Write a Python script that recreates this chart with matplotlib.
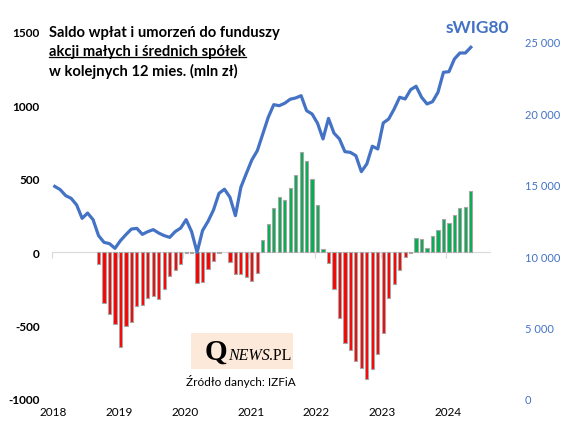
import numpy as np
import matplotlib
matplotlib.use('Agg')
import matplotlib.pyplot as plt
from matplotlib.patches import Rectangle
from matplotlib.lines import Line2D

plt.rcParams['font.family'] = ['Lato', 'DejaVu Sans']

# monthly data, Jan 2018 .. May 2024
years = ['2018', '2019', '2020', '2021', '2022', '2023', '2024']

# 12-month rolling net flows into small/mid cap equity funds (mln zl)
flows = [0, 0, 0, 0, 0, 0, 0, 0,
         -77, -349, -418, -486, -644, -503, -476, -367, -358, -313, -295, -322,
         -254, -163, -124, -77, -3, -8, -213, -201, -113, -58, -5, 0,
         -68, -150, -150, -170, -195, -143,
         82, 190, 299, 374, 354, 435, 524, 680, 619, 497, 320, 20,
         -73, -249, -447, -617, -669, -739, -787, -866, -798, -692, -549, -311,
         -220, -118, -36, -8,
         100, 93, 32, 113, 154, 229, 202, 256, 304, 308, 420]

# sWIG80 index level
swig = [14890, 14660, 14240, 14050, 13590, 12650, 13020, 12560, 11440, 10970,
        10880, 10550, 11090, 11510, 11900, 11950, 11530, 11720, 11860, 11620,
        11440, 11320, 11720, 11970, 12560, 11720, 10270, 11800, 12440, 13240,
        14400, 14690, 14130, 12840, 14830, 15800, 16740, 17390, 18560, 19730,
        20610, 20540, 20710, 20990, 21080, 21240, 20190, 19960, 19310, 18210,
        19650, 18620, 18210, 17320, 17270, 17040, 15920, 16460, 17700, 17510,
        19330, 19610, 20310, 21130, 21010, 21660, 21900, 21130, 20660, 20820,
        21480, 22880, 22920, 23810, 24230, 24230, 24630]

x = np.arange(len(flows)) + 0.5
flows = np.array(flows)
blue = '#4472C4'

fig = plt.figure(figsize=(5.67, 4.35), dpi=100)
ax = fig.add_axes([52/567, 1 - 400/435, 438/567, 367/435])

nz = flows != 0
colors = np.where(flows[nz] > 0, '#00b050', '#ff0000')
ax.bar(x[nz], flows[nz], width=0.58, color=colors, edgecolor='#a6a6a6',
       linewidth=0.8, zorder=2)

ax.set_xlim(0, 80)
ax.set_ylim(-1000, 1500)
for s in ['top', 'right', 'left']:
    ax.spines[s].set_visible(False)
ax.spines['bottom'].set_position(('data', 0))
ax.spines['bottom'].set_color('#d9d9d9')
ax.spines['bottom'].set_zorder(1)
ax.set_xticks(np.arange(0, 84, 12))
ax.tick_params(axis='x', direction='out', length=4, color='#d9d9d9', labelbottom=False)
for i, yr in enumerate(years):
    ax.text(i * 12 + 0.3, -0.033, yr, transform=ax.get_xaxis_transform(),
            ha='center', va='center', fontsize=8.5)

ax.set_yticks([-1000, -500, 0, 500, 1000, 1500])
ax.set_yticklabels(['-1000', '-500', '0', '500', '1000', '1500'], fontweight='bold')
ax.tick_params(axis='y', length=0, pad=9, labelsize=8.5)

ax2 = ax.twinx()
ax2.plot(x, swig, color=blue, lw=2.3, zorder=3)
ax2.set_ylim(0, 25700)
ax2.set_yticks(np.arange(0, 25001, 5000))
ax2.set_yticklabels(['0', '5 000', '10 000', '15 000', '20 000', '25 000'])
ax2.tick_params(axis='y', length=0, pad=25, labelsize=8, labelcolor=blue)
for s in ax2.spines.values():
    s.set_visible(False)

fig.text(477/567, 1 - 28/435, 'sWIG80', color=blue, fontsize=12.5,
         fontweight='bold', ha='center', va='center')

# title
title_lines = ['Saldo wpłat i umorzeń do funduszy',
               'akcji małych i średnich spółek',
               'w kolejnych 12 mies. (mln zł)']
tx = []
for k, line in enumerate(title_lines):
    tx.append(fig.text(49/567, 1 - (33 + 19 * k)/435, line, fontsize=10.6,
                       fontweight='bold', ha='left', va='center'))

# logo + source
fig.patches.append(Rectangle((191/567, 1 - 370/435), 102/567, 36/435,
                             transform=fig.transFigure, facecolor='#fde9d9',
                             edgecolor='none'))
q = fig.text(205/567, 1 - 360/435, 'Q', family='Liberation Serif', fontsize=21,
             fontweight='bold', ha='left', va='baseline')
fig.canvas.draw()
r = fig.canvas.get_renderer()
bb = q.get_window_extent(r).transformed(fig.transFigure.inverted())
n = fig.text(bb.x1, 1 - 360/435, 'NEWS', family='Liberation Serif', style='italic',
             fontsize=11.5, ha='left', va='baseline')
bb = n.get_window_extent(r).transformed(fig.transFigure.inverted())
fig.text(bb.x1, 1 - 360/435, '.PL', family='Liberation Serif', fontsize=11.5,
         ha='left', va='baseline')
fig.text(241/567, 1 - 382/435, 'Źródło danych: IZFiA', fontsize=8.5,
         ha='center', va='center')

# underline second title line
bb = tx[1].get_window_extent(r).transformed(fig.transFigure.inverted())
fig.add_artist(Line2D([bb.x0, bb.x1], [bb.y0 + 0.002, bb.y0 + 0.002],
                      transform=fig.transFigure, color='black', lw=0.9))

fig.savefig('out.png', dpi=100)
